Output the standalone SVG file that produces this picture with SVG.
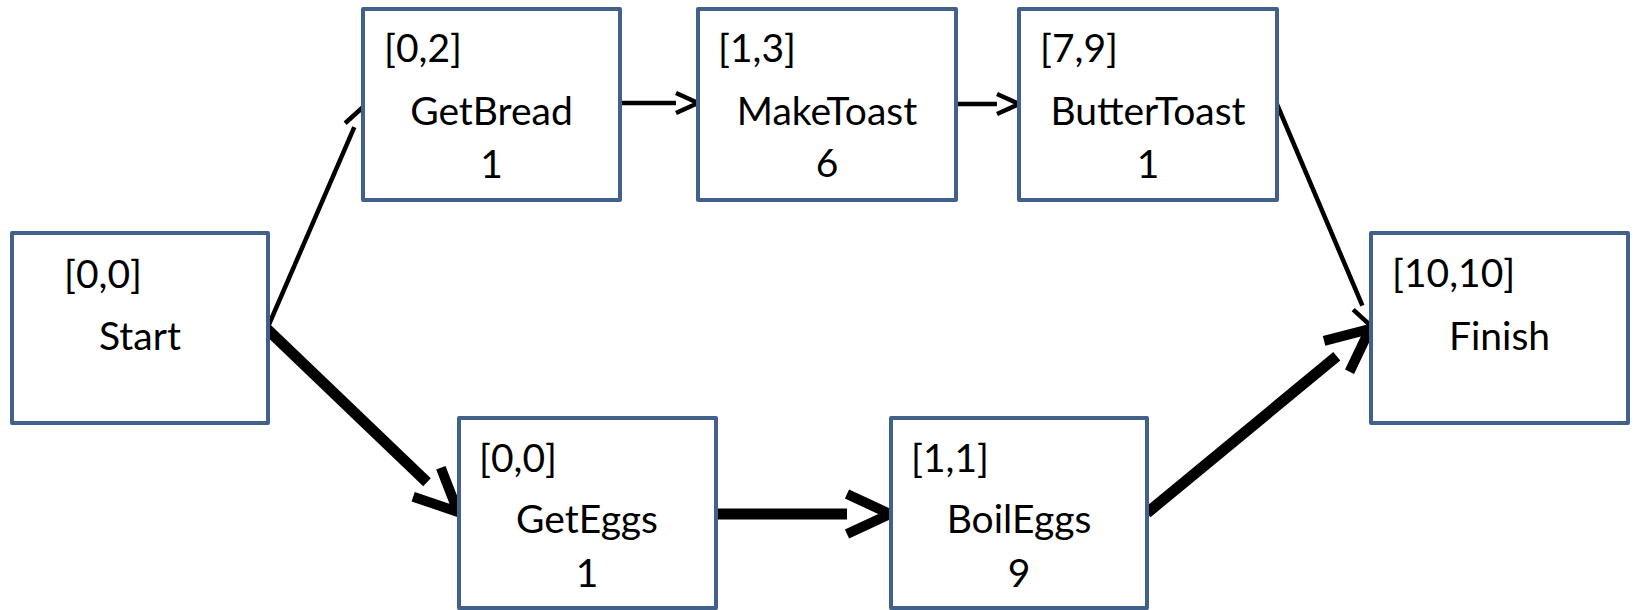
<svg xmlns="http://www.w3.org/2000/svg" width="1635" height="610" viewBox="0 0 1635 610">
<style>
.box{fill:#fff;stroke:#41618c;stroke-width:4;stroke-linejoin:round}
text{font-family:Lato,"Liberation Sans",sans-serif;font-size:39px;fill:#000}
.c{text-anchor:middle}
.thin{stroke:#000;stroke-width:4.5;fill:none;marker-end:url(#arrThin)}
.thick{stroke:#000;stroke-width:11;fill:none;marker-end:url(#arrThick)}
</style>
<defs>
<marker id="arrThin" markerUnits="userSpaceOnUse" markerWidth="40" markerHeight="40" refX="0" refY="0" orient="auto" overflow="visible">
<path d="M0,-10 L22,0 L0,10" fill="none" stroke="#000" stroke-width="4.5"/>
</marker>
<marker id="arrThick" markerUnits="userSpaceOnUse" markerWidth="60" markerHeight="60" refX="0" refY="0" orient="auto" overflow="visible">
<path d="M0,-20 L43,0 L0,20" fill="none" stroke="#000" stroke-width="10"/>
</marker>
</defs>
<rect width="1635" height="610" fill="#fff"/>
<g id="connectors">
<line class="thin" x1="267" y1="329" x2="354.3" y2="127.2"/>
<line class="thin" x1="620" y1="103" x2="676" y2="103"/>
<line class="thin" x1="956" y1="104" x2="997" y2="104"/>
<line class="thin" x1="1276" y1="102" x2="1362.4" y2="305.7"/>
<line class="thick" x1="267" y1="329" x2="427" y2="482.2"/>
<line class="thick" x1="716" y1="514" x2="847" y2="514"/>
<line class="thick" x1="1147" y1="513" x2="1336.8" y2="356.3"/>
</g>
<g id="start">
<rect class="box" x="12" y="233" width="256" height="190"/>
<text x="64" y="288">[0,0]</text>
<text class="c" x="140" y="350">Start</text>
</g>
<g id="getbread">
<rect class="box" x="363" y="9" width="257" height="191"/>
<text x="384" y="62">[0,2]</text>
<text class="c" x="491.5" y="125">GetBread</text>
<text class="c" x="491.5" y="178">1</text>
</g>
<g id="maketoast">
<rect class="box" x="698" y="9" width="258" height="191"/>
<text x="718" y="62">[1,3]</text>
<text class="c" x="827" y="125">MakeToast</text>
<text class="c" x="827" y="177">6</text>
</g>
<g id="buttertoast">
<rect class="box" x="1019" y="9" width="258" height="191"/>
<text x="1040" y="62">[7,9]</text>
<text class="c" x="1148" y="125">ButterToast</text>
<text class="c" x="1148" y="178">1</text>
</g>
<g id="geteggs">
<rect class="box" x="459" y="418" width="257" height="190"/>
<text x="479" y="472">[0,0]</text>
<text class="c" x="587" y="533">GetEggs</text>
<text class="c" x="587" y="587">1</text>
</g>
<g id="boileggs">
<rect class="box" x="891" y="418" width="256" height="190"/>
<text x="911" y="472">[1,1]</text>
<text class="c" x="1019" y="533">BoilEggs</text>
<text class="c" x="1019" y="587">9</text>
</g>
<g id="finish">
<rect class="box" x="1371" y="233" width="257" height="190"/>
<text x="1392" y="287">[10,10]</text>
<text class="c" x="1499.5" y="350">Finish</text>
</g>
</svg>
